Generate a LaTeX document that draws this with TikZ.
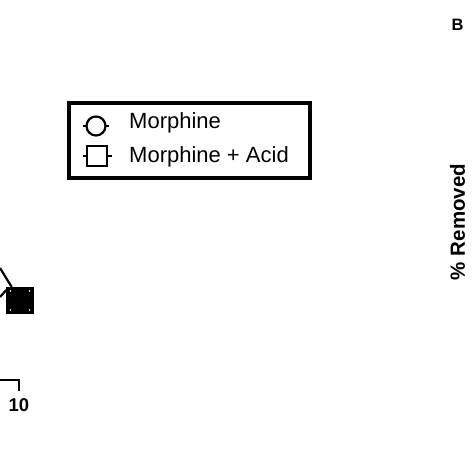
\documentclass[tikz,border=0pt]{standalone}
\usepackage{fontspec}
\setmainfont{Liberation Sans}
\usepackage{tikz}
\usetikzlibrary{positioning,calc}

\begin{document}
\begin{tikzpicture}[x=1pt,y=1pt,
    plotline/.style={line width=2.2pt},
    sqmark/.style={draw, line width=2.2pt, rectangle, minimum size=#1, inner sep=0pt},
    circmark/.style={draw, line width=2.2pt, circle, fill=white, minimum size=19pt, inner sep=0pt},
    legtext/.style={font=\fontsize{22}{25}\selectfont, anchor=base west, inner sep=0pt},
    boldlabel/.style={font=\bfseries\fontsize{#1}{#1}\selectfont, inner sep=0pt}]
    \useasboundingbox (0,0) rectangle (474,474);

    % Data point
    \node[sqmark=25pt, fill=black] (pt10) at (20,173.5) {};
    \foreach \dx/\dy in {-9.5/-9.5,-9.5/9.5,9.5/-9.5,9.5/9.5}
        \fill[white] ($(pt10)+(\dx,\dy)$) circle (0.9pt);
    \coordinate (in1) at (0,206);
    \coordinate (in2) at (0,177);
    \draw [plotline] (in1) -- (pt10);
    \draw [plotline] (in2) -- ([yshift=-3pt]pt10.north west);

    % Axis
    \coordinate (ax0) at (0,94);
    \coordinate (ax10) at (19,94);
    \draw [plotline] (ax0) -- (ax10) -- ++(0,-11) coordinate (tick10);
    \node[boldlabel=18.5, anchor=base] (lbl10) at (19,62) {10};

    % Legend
    \node[draw, line width=3.5pt, minimum width=241pt, minimum height=75pt, inner sep=0pt] (legend) at (189.5,333.5) {};
    \draw [plotline] (83,348) -- (109,348);
    \node[circmark] (legcirc) at (96,348) {};
    \draw [plotline] (83,318) -- (112,318);
    \node[sqmark=20pt, fill=white] (legsq) at (97,318) {};
    \node[legtext] (legmorph) at (129,345) {Morphine};
    \node[legtext] (legacid) at (129,311) {Morphine + Acid};

    % Labels
    \node[boldlabel=16.5] (panelB) at (457.5,449) {B};
    \node[boldlabel=20.5, rotate=90] (ylabel) at (457.5,252) {\% Removed};
\end{tikzpicture}
\end{document}
